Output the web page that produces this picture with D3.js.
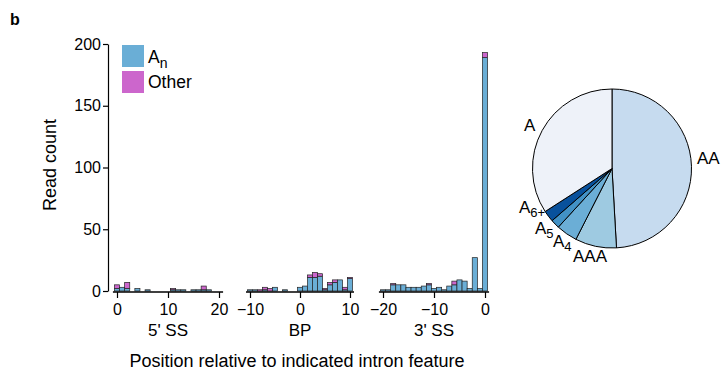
<!DOCTYPE html>
<html><head><meta charset="utf-8">
<script src="https://cdn.jsdelivr.net/npm/d3@7"></script>
<style>body{margin:0;background:#fff;font-family:"Liberation Sans",Arial,sans-serif;}</style>
</head><body><svg id="c" width="721" height="372"></svg>
<script>
// ---- data ----
const ss5Pos   = d3.range(0, 21);
const ss5An    = [2,3,2,0,2,0,1,0,0,0,0,1,1,1,0,1,1,1,1,0,0];
const ss5Other = [3,0,5,0,0,0,0,0,0,0,0,1,0,0,0,0,0,3,0,0,0];
const bpPos    = d3.range(-10, 11);
const bpAn     = [1,1,0,1,0,3,0,1,0,0,3,4,11,11,12,1,5,7,9,1,10];
const bpOther  = [0,0,1,2,2,0,0,0,0,0,0,0,2,4,2,1,2,2,0,2,1];
const ss3Pos   = d3.range(-20, 1);
const ss3An    = [1,1,5,5,5,3,3,3,4,5,2,3,1,4,5,9,8,2,27,2,189];
const ss3Other = [0,0,1,0,0,0,0,0,0,1,0,0,0,0,3,0,0,0,0,0,4];
const yTicks   = [0,50,100,150,200];
const panelNames = ["5' SS","BP","3' SS"];
const panelTicks = [[0,10,20],[-10,0,10],[-20,-10,0]];
const pieLabels = ["AA","AAA","A4","A5","A6+","A"];
const pieValues = [49.1,8.4,4.3,1.8,2.3,34.1];
const pieColors = ["#c6dbef","#9ecae1","#6baed6","#4292c6","#08519c","#eef2f9"];
const anColor = "#6aaed6", otherColor = "#cc66cc";

const svg = d3.select("#c");
const font = "'Liberation Sans', Arial, sans-serif";

svg.append("text").attr("x",10).attr("y",25).attr("font-family",font).attr("font-weight","bold").attr("font-size",16).text("b");

// y axis
const y = d3.scaleLinear().domain([0,200]).range([291,44]);
const yAx = svg.append("g").attr("transform","translate(108,0)")
  .call(d3.axisLeft(y).tickValues(yTicks).tickSize(5).tickSizeOuter(0));
yAx.select(".domain").attr("stroke","#000").attr("stroke-width",1.2);
yAx.selectAll(".tick line").attr("stroke","#000").attr("stroke-width",1.2);
yAx.selectAll("text").attr("font-family",font).attr("font-size",16).attr("fill","#000").attr("x",-7);

svg.append("text").attr("transform","translate(56,165) rotate(-90)").attr("text-anchor","middle")
  .attr("font-family",font).attr("font-size",18).text("Read count");

const panels = [
  {pos:ss5Pos, an:ss5An, other:ss5Other, dom:[0,20], rng:[117,219]},
  {pos:bpPos, an:bpAn, other:bpOther, dom:[-10,10], rng:[250,350]},
  {pos:ss3Pos, an:ss3An, other:ss3Other, dom:[-20,0], rng:[383,485]}
];
panels.forEach((p,i)=>{
  const x = d3.scaleLinear().domain(p.dom).range(p.rng);
  const bw = x(1)-x(0);
  const g = svg.append("g");
  p.pos.forEach((v,j)=>{
    const a = p.an[j], o = p.other[j];
    if (a>0) g.append("rect").attr("x",x(v)-bw/2).attr("width",bw)
      .attr("y",y(a)).attr("height",y(0)-y(a)).attr("fill",anColor).attr("stroke","#222").attr("stroke-width",0.7);
    if (o>0) g.append("rect").attr("x",x(v)-bw/2).attr("width",bw)
      .attr("y",y(a+o)).attr("height",y(a)-y(a+o)).attr("fill",otherColor).attr("stroke","#222").attr("stroke-width",0.7);
  });
  const ax = svg.append("g").attr("transform","translate(0,292)")
    .call(d3.axisBottom(x).tickValues(panelTicks[i]).tickSize(6).tickSizeOuter(0));
  ax.select(".domain").remove();
  ax.append("line").attr("x1",x(p.dom[0]-0.8)).attr("x2",x(p.dom[1]+0.8)).attr("stroke","#000").attr("stroke-width",1.5);
  ax.selectAll(".tick line").attr("stroke","#000").attr("stroke-width",1.2);
  ax.selectAll("text").attr("font-family",font).attr("font-size",16).attr("fill","#000").attr("dy","0.85em");
  svg.append("text").attr("x",(p.rng[0]+p.rng[1])/2).attr("y",336).attr("text-anchor","middle")
    .attr("font-family",font).attr("font-size",17).text(panelNames[i]);
});

svg.append("text").attr("x",297).attr("y",367).attr("text-anchor","middle")
  .attr("font-family",font).attr("font-size",18).text("Position relative to indicated intron feature");

// legend
const lg = svg.append("g");
lg.append("rect").attr("x",122).attr("y",45).attr("width",22).attr("height",22).attr("fill",anColor);
lg.append("rect").attr("x",122).attr("y",71).attr("width",22).attr("height",22).attr("fill",otherColor);
const t1 = lg.append("text").attr("x",148).attr("y",63).attr("font-family",font).attr("font-size",17.5);
t1.append("tspan").text("A");
t1.append("tspan").attr("font-size",14).attr("dy",5).text("n");
lg.append("text").attr("x",148).attr("y",88).attr("font-family",font).attr("font-size",17.5).text("Other");

// pie
const cx = 612, cy = 168.5, r = 79.5;
const pie = d3.pie().sort(null).value(d=>d)(pieValues);
const arc = d3.arc().innerRadius(0).outerRadius(r);
const pg = svg.append("g").attr("transform",`translate(${cx},${cy})`);
pg.selectAll("path").data(pie).join("path").attr("d",arc)
  .attr("fill",(d,i)=>pieColors[i]).attr("stroke","#000").attr("stroke-width",1);

const labelPos = [[697,164],[573,262],[553,247],[535,234],[519,213],[524,131]];
pieLabels.forEach((lab,i)=>{
  const [lx,ly] = labelPos[i];
  const t = svg.append("text").attr("x",lx).attr("y",ly)
    .attr("font-family",font).attr("font-size",17);
  const m = lab.match(/^A(\d\+?)$/);
  if (m) { t.append("tspan").text("A"); t.append("tspan").attr("font-size",13).attr("dy",4).text(m[1]); }
  else t.text(lab);
});
</script></body></html>
